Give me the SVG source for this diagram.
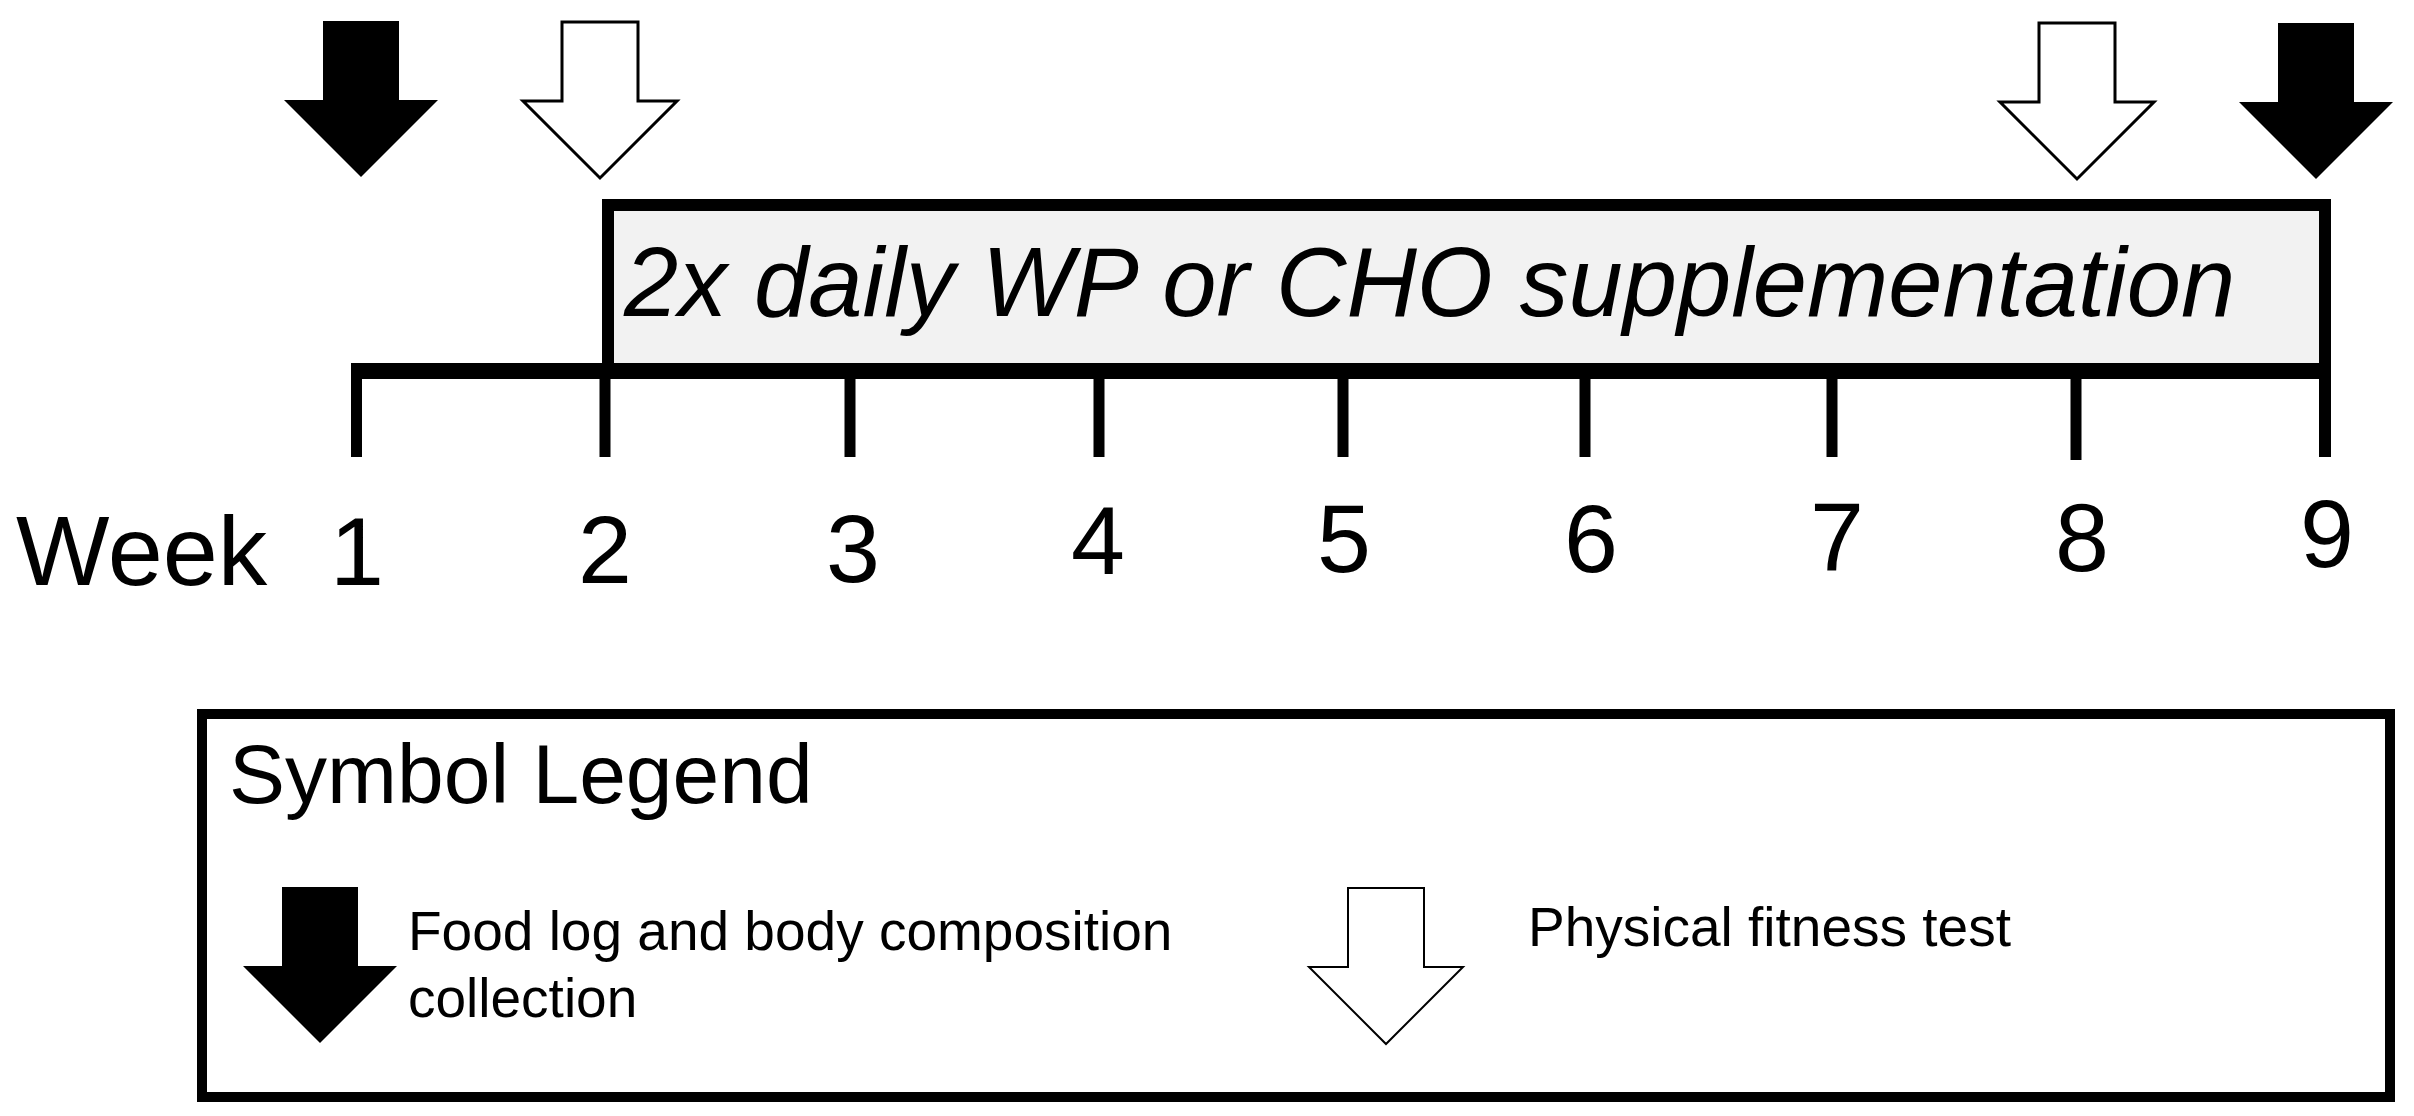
<svg xmlns="http://www.w3.org/2000/svg" width="2414" height="1116" viewBox="0 0 2414 1116">
<style>
text{font-family:"Liberation Sans",Arial,sans-serif;fill:#000}
.num{font-size:97px;text-anchor:middle}
.blk{fill:#000;stroke:none}
.wht{fill:#fff;stroke:#000;stroke-width:3;stroke-linejoin:miter}
.wht2{fill:#fff;stroke:#000;stroke-width:2;stroke-linejoin:miter}
.tick{stroke:#000;stroke-width:11;fill:none}
</style>
<defs>
<path id="arrow" d="M-38,0 H38 V79 H77 L0,156 L-77,79 H-38 Z"/>
</defs>
<rect width="2414" height="1116" fill="#fff"/>

<g id="supplementation">
<rect x="608" y="205" width="1717" height="166" fill="#f2f2f2" stroke="#000" stroke-width="12"/>
<text x="624" y="316" font-size="97.5" font-style="italic">2x daily WP or CHO supplementation</text>
</g>

<g id="timeline">
<rect x="351" y="363" width="1980" height="16" fill="#000"/>
<line class="tick" x1="356.5" y1="363" x2="356.5" y2="457"/>
<line class="tick" x1="605" y1="363" x2="605" y2="457"/>
<line class="tick" x1="850" y1="363" x2="850" y2="457"/>
<line class="tick" x1="1099" y1="363" x2="1099" y2="457"/>
<line class="tick" x1="1343" y1="363" x2="1343" y2="457"/>
<line class="tick" x1="1585" y1="363" x2="1585" y2="457"/>
<line class="tick" x1="1832" y1="363" x2="1832" y2="457"/>
<line class="tick" x1="2076" y1="363" x2="2076" y2="460"/>
<line x1="2325" y1="363" x2="2325" y2="457" stroke="#000" stroke-width="12"/>
</g>

<g id="week-labels">
<text x="16" y="585" font-size="99">Week</text>
<text class="num" x="357" y="585">1</text>
<text class="num" x="605" y="583">2</text>
<text class="num" x="853" y="582">3</text>
<text class="num" x="1098" y="574">4</text>
<text class="num" x="1344" y="572">5</text>
<text class="num" x="1591" y="572">6</text>
<text class="num" x="1837" y="570">7</text>
<text class="num" x="2082" y="571">8</text>
<text class="num" x="2327" y="567">9</text>
</g>

<g id="arrow-week1-food"><use href="#arrow" class="blk" transform="translate(361,21)"/></g>
<g id="arrow-week2-fitness"><use href="#arrow" class="wht" transform="translate(600,22)"/></g>
<g id="arrow-week8-fitness"><use href="#arrow" class="wht" transform="translate(2077,23)"/></g>
<g id="arrow-week9-food"><use href="#arrow" class="blk" transform="translate(2316,23)"/></g>

<g id="legend">
<rect x="202" y="714" width="2188" height="383" fill="#fff" stroke="#000" stroke-width="10"/>
<text x="229" y="803" font-size="84">Symbol Legend</text>
<use href="#arrow" class="blk" transform="translate(320,887)"/>
<text x="408" y="950" font-size="55">Food log and body composition</text>
<text x="408" y="1017" font-size="55">collection</text>
<use href="#arrow" class="wht2" transform="translate(1386,888)"/>
<text x="1528" y="946" font-size="55">Physical fitness test</text>
</g>
</svg>
